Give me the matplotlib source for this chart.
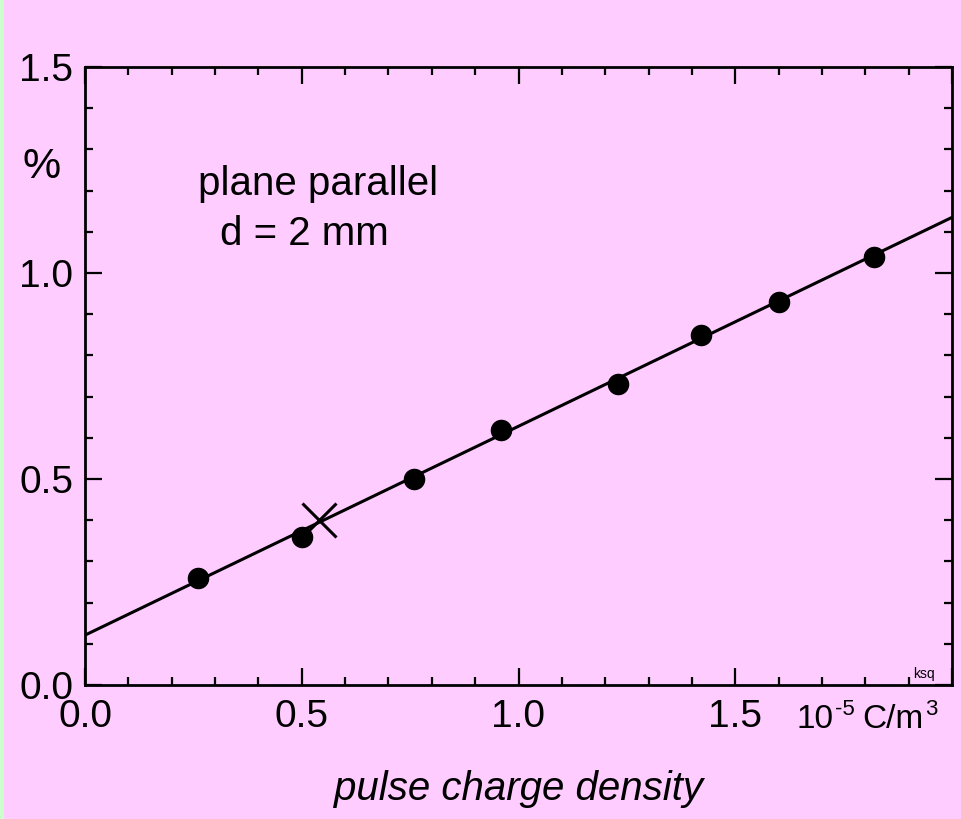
import numpy as np
import matplotlib
matplotlib.use("Agg")
import matplotlib.pyplot as plt
from matplotlib.ticker import MultipleLocator, FixedLocator
from matplotlib.patches import Rectangle

plt.rcParams['font.family'] = ['Liberation Sans', 'DejaVu Sans']

# measured points (10^-5 C/m^3, %)
charge = [0.26, 0.50, 0.76, 0.96, 1.23, 1.42, 1.60, 1.82]
percent = [0.26, 0.36, 0.50, 0.62, 0.73, 0.85, 0.93, 1.04]
# single cross point
cross_x = [0.54]
cross_y = [0.40]
# fitted line end points
fit_x = [0.0, 2.0]
fit_y = [0.121, 1.135]

xticks = [0.0, 0.5, 1.0, 1.5, 2.0]
xticklabels = ['0.0', '0.5', '1.0', '1.5', '']
yticks = [0.0, 0.5, 1.0, 1.5]
yticklabels = ['0.0', '0.5', '1.0', '1.5']

W, H = 962, 819
pink = '#FFCCFF'
fig = plt.figure(figsize=(W / 100, H / 100), dpi=100, facecolor=pink)
fig.patches.append(Rectangle((0, 0), 4 / W, 1, transform=fig.transFigure,
                             facecolor='#CCFFCC', edgecolor='none', zorder=0))
ax = fig.add_axes([85 / W, 134 / H, 867 / W, 618 / H])
ax.set_facecolor(pink)

ax.plot(fit_x, fit_y, color='black', lw=2.2, zorder=2)
ax.plot(charge, percent, 'o', color='black', ms=14.5, zorder=3)
ax.plot(cross_x, cross_y, 'x', color='black', ms=24, mew=2.2, zorder=3)

ax.set_xlim(0, 2.0)
ax.set_ylim(0, 1.5)
ax.xaxis.set_major_locator(FixedLocator(xticks))
ax.xaxis.set_minor_locator(MultipleLocator(0.1))
ax.yaxis.set_major_locator(FixedLocator(yticks))
ax.yaxis.set_minor_locator(MultipleLocator(0.1))
ax.set_xticklabels(xticklabels)
ax.set_yticklabels(yticklabels)

for s in ax.spines.values():
    s.set_linewidth(2.0)
ax.tick_params(which='both', direction='in', top=True, right=True, width=1.6)
ax.tick_params(which='major', length=12, labelsize=28)
ax.tick_params(which='minor', length=6)
ax.tick_params(axis='x', pad=10)
ax.tick_params(axis='y', pad=8.5)

ax.set_xlabel('pulse charge density', fontsize=29, style='italic', labelpad=25)

fig.text(42 / W, 1 - 167 / H, '%', fontsize=31, ha='center', va='center')
fig.text(198 / W, 1 - 195 / H, 'plane parallel', fontsize=29, ha='left', va='baseline')
fig.text(220 / W, 1 - 245 / H, 'd = 2 mm', fontsize=29, ha='left', va='baseline')
fig.text(913 / W, 1 - 678 / H, 'ksq', fontsize=10, ha='left', va='baseline')

# unit label at the 2.0 tick position: pieces (text, size, raise px, gap px before)
unit_parts = [('10', 24, 0, 0), ('-5', 16, 13, 1), ('C/m', 24, 0, 8), ('3', 16, 13, 1)]
renderer = fig.canvas.get_renderer()
x = 797
base = H - 728
for txt, size, rise, gap in unit_parts:
    x += gap
    t = fig.text(x / W, (base + rise) / H, txt, fontsize=size, ha='left', va='baseline')
    x = t.get_window_extent(renderer).x1

fig.savefig('out.png', dpi=100, facecolor=pink)
